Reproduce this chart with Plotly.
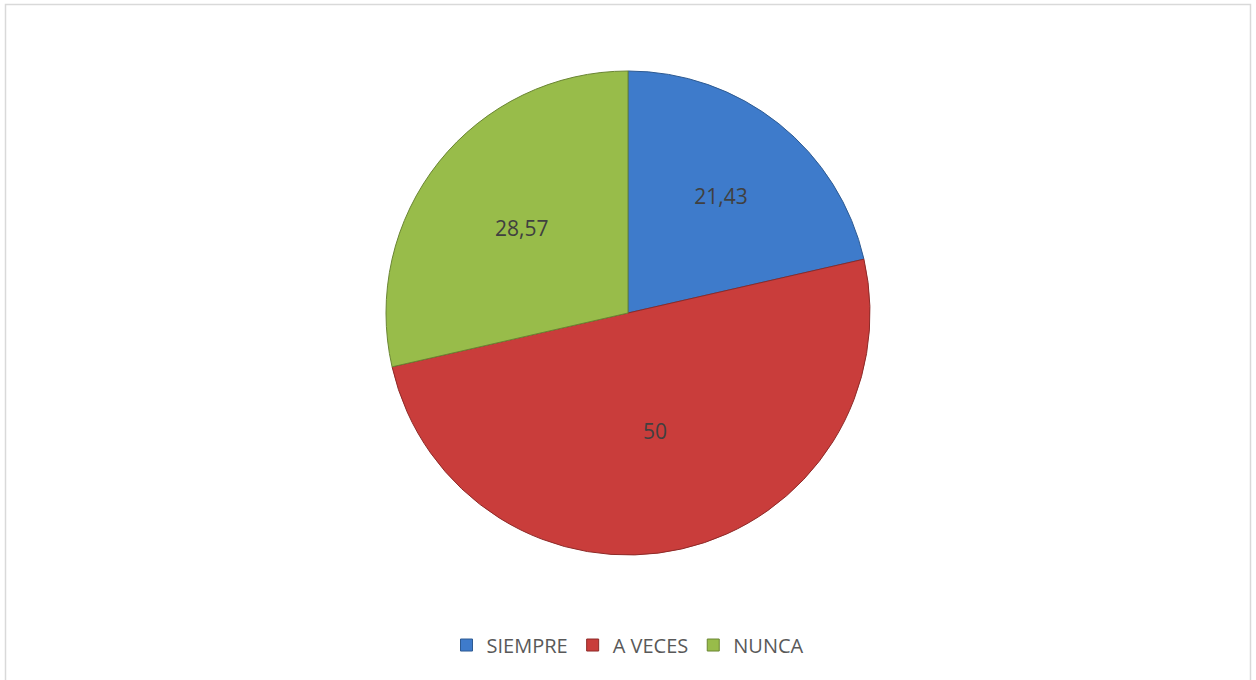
import plotly.graph_objects as go

categories = ["SIEMPRE", "A VECES", "NUNCA"]
values = [21.43, 50, 28.57]
value_labels = ["21,43", "50", "28,57"]
colors = ["#3E7BCB", "#C93D3B", "#98BC4A"]
edge_colors = ["#2D5A92", "#8E2A28", "#6A8533"]

fig = go.Figure(go.Pie(
    labels=categories,
    values=values,
    text=value_labels,
    texttemplate="%{text}",
    textposition="inside",
    insidetextorientation="horizontal",
    textfont=dict(family="Open Sans, Liberation Sans, sans-serif", size=21, color="#404040"),
    marker=dict(colors=colors, line=dict(color=edge_colors, width=1)),
    sort=False,
    direction="clockwise",
    rotation=0,
    hole=0,
))

fig.update_layout(
    width=1256, height=680,
    margin=dict(l=0, r=0, t=71, b=125),
    paper_bgcolor="white",
    plot_bgcolor="white",
    showlegend=True,
    legend=dict(
        orientation="h", x=0.5, xanchor="center", y=-0.186, yanchor="middle",
        font=dict(family="Open Sans, Liberation Sans, sans-serif", size=20, color="#595959"),
        itemwidth=30, traceorder="normal",
    ),
    shapes=[dict(type="rect", xref="paper", yref="paper",
                 x0=5.5/1256, x1=1250.5/1256, y0=-0.4, y1=(555-4.5)/484,
                 line=dict(color="#d9d9d9", width=1.5), fillcolor="rgba(0,0,0,0)", layer="below")],
)

fig.write_html("out.html", config={"displayModeBar": False},
               post_script="document.body.style.margin='0';document.body.style.overflow='hidden';")
